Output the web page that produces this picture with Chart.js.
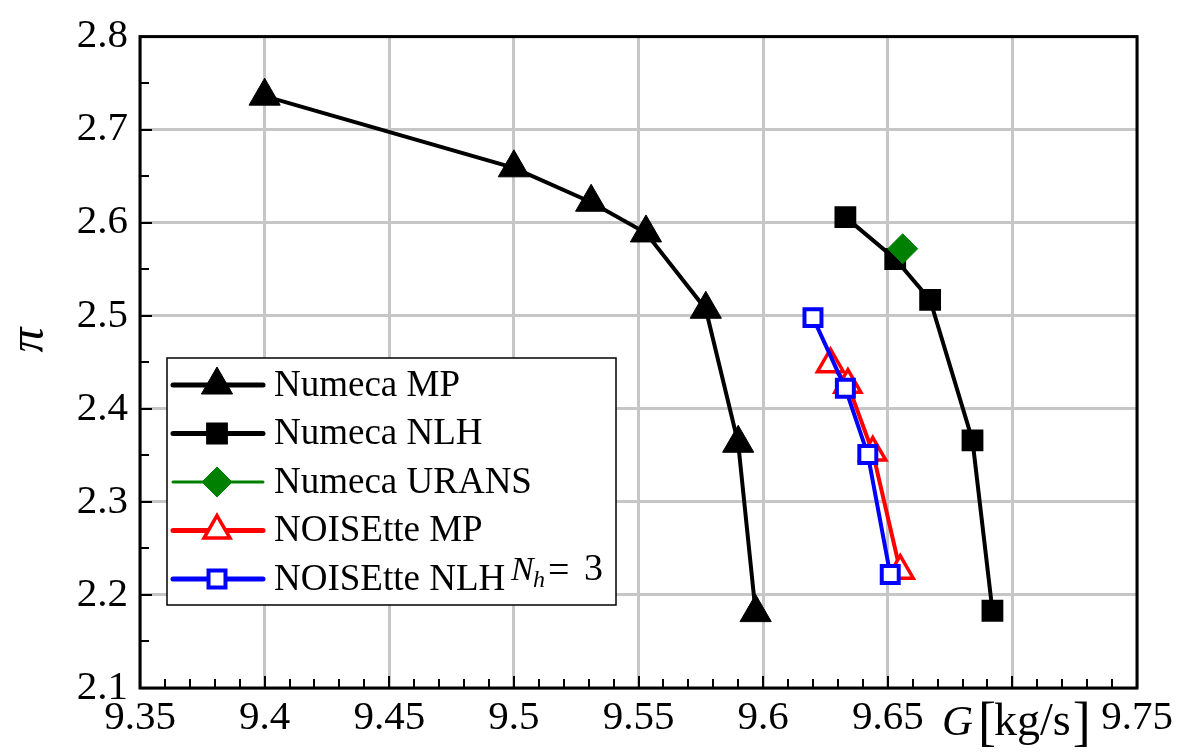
<!DOCTYPE html>
<html>
<head>
<meta charset="utf-8">
<script src="https://cdn.jsdelivr.net/npm/chart.js@4.4.0/dist/chart.umd.min.js"></script>
<style>
  html, body { margin: 0; padding: 0; background: #fff; }
</style>
</head>
<body>
<canvas id="chart" width="1186" height="753"></canvas>
<script>
// mass flow G [kg/s] vs pressure ratio pi
const numecaMpG   = [9.400, 9.500, 9.531, 9.553, 9.577, 9.590, 9.597];
const numecaMpPi  = [2.736, 2.659, 2.622, 2.589, 2.507, 2.363, 2.181];

const numecaNlhG  = [9.633, 9.653, 9.667, 9.684, 9.692];
const numecaNlhPi = [2.606, 2.561, 2.517, 2.366, 2.183];

const uransG  = [9.656];
const uransPi = [2.572];

const noiseMpG   = [9.627, 9.634, 9.644, 9.655];
const noiseMpPi  = [2.448, 2.426, 2.353, 2.226];

const noiseNlhG  = [9.620, 9.633, 9.642, 9.651];
const noiseNlhPi = [2.498, 2.422, 2.351, 2.222];

const gTicks = [9.35, 9.4, 9.45, 9.5, 9.55, 9.6, 9.65, 9.7, 9.75];
const gTickLabels = ['9.35', '9.4', '9.45', '9.5', '9.55', '9.6', '9.65', '', '9.75'];
const piTicks = [2.1, 2.2, 2.3, 2.4, 2.5, 2.6, 2.7, 2.8];
const piTickLabels = ['2.1', '2.2', '2.3', '2.4', '2.5', '2.6', '2.7', '2.8'];

const SERIF = "'Liberation Serif', 'DejaVu Serif', serif";

function pts(xs, ys) {
  return xs.map((x, i) => ({ x: x, y: ys[i] }));
}

// inner ticks, frame box, axis titles
const frame = {
  id: 'frame',
  afterDatasetsDraw(chart) {
    const { ctx, chartArea: a, scales: { x, y } } = chart;
    ctx.save();
    ctx.strokeStyle = '#000';
    ctx.lineWidth = 2;
    ctx.beginPath();
    for (let i = 0; i < gTicks.length - 1; i++) {
      const step = (gTicks[i + 1] - gTicks[i]) / 5;
      for (let k = 0; k < 5; k++) {
        const px = Math.round(x.getPixelForValue(gTicks[i] + k * step));
        const len = k === 0 ? 12 : 9;
        ctx.moveTo(px, a.bottom);
        ctx.lineTo(px, a.bottom - len);
      }
    }
    for (let i = 0; i < piTicks.length - 1; i++) {
      const step = (piTicks[i + 1] - piTicks[i]) / 2;
      for (let k = 0; k < 2; k++) {
        const py = Math.round(y.getPixelForValue(piTicks[i] + k * step));
        const len = k === 0 ? 12 : 9;
        ctx.moveTo(a.left, py);
        ctx.lineTo(a.left + len, py);
      }
    }
    ctx.stroke();
    ctx.lineWidth = 3;
    ctx.strokeRect(a.left, a.top, a.right - a.left, a.bottom - a.top);
    ctx.restore();
  },
  afterDraw(chart) {
    const ctx = chart.ctx;
    ctx.save();
    ctx.fillStyle = '#000';
    // y title, rotated
    ctx.translate(30, 340);
    ctx.rotate(-Math.PI / 2);
    ctx.font = 'italic 50px ' + SERIF;
    ctx.textAlign = 'center';
    ctx.textBaseline = 'middle';
    ctx.fillText('\u03c0', 0, 0);
    ctx.restore();

    // x title: G [kg/s] with tall brackets
    ctx.save();
    ctx.fillStyle = '#000';
    ctx.textBaseline = 'alphabetic';
    ctx.textAlign = 'left';
    ctx.font = 'italic 43px ' + SERIF;
    ctx.fillText('G', 942, 735);
    ctx.font = '54px ' + SERIF;
    ctx.fillText('[', 978, 740);
    ctx.font = '46px ' + SERIF;
    ctx.fillText('kg/s', 994, 735);
    const unitEnd = 994 + ctx.measureText('kg/s').width;
    ctx.font = '54px ' + SERIF;
    ctx.fillText(']', unitEnd + 2, 740);
    ctx.restore();
  }
};

// boxed legend: line with the marker in the middle
const legendBox = {
  id: 'legendBox',
  afterDraw(chart) {
    const ctx = chart.ctx;
    const bx = 167, by = 358, bw = 449, bh = 247;
    ctx.save();
    ctx.fillStyle = '#fff';
    ctx.fillRect(bx, by, bw, bh);
    ctx.strokeStyle = '#000';
    ctx.lineWidth = 1.5;
    ctx.strokeRect(bx, by, bw, bh);

    chart.data.datasets.forEach((ds, i) => {
      const ry = by + 27 + i * 48.5;
      ctx.strokeStyle = ds.borderColor;
      ctx.lineWidth = ds.legendLineWidth;
      ctx.lineCap = 'round';
      ctx.beginPath();
      ctx.moveTo(bx + 6, ry);
      ctx.lineTo(bx + 96, ry);
      ctx.stroke();

      ctx.fillStyle = ds.pointBackgroundColor;
      ctx.strokeStyle = ds.pointBorderColor;
      ctx.lineWidth = ds.pointBorderWidth;
      ctx.lineCap = 'butt';
      Chart.helpers.drawPoint(ctx, {
        pointStyle: ds.pointStyle,
        radius: ds.pointRadius,
        rotation: 0,
        borderWidth: ds.pointBorderWidth
      }, bx + 50, ry);

      ctx.fillStyle = '#000';
      ctx.font = '37px ' + SERIF;
      ctx.textBaseline = 'middle';
      ctx.textAlign = 'left';
      ctx.fillText(ds.label, bx + 107, ry + 1);
    });

    // harmonic count note
    ctx.fillStyle = '#000';
    ctx.textBaseline = 'alphabetic';
    ctx.font = 'italic 34px ' + SERIF;
    ctx.fillText('N', 511, 580);
    ctx.font = 'italic 24px ' + SERIF;
    ctx.fillText('h', 533, 587);
    ctx.font = '38px ' + SERIF;
    ctx.fillText('=', 548, 582);
    ctx.fillText('3', 584, 580);
    ctx.restore();
  }
};

new Chart(document.getElementById('chart'), {
  type: 'line',
  data: {
    datasets: [
      {
        label: 'Numeca MP',
        data: pts(numecaMpG, numecaMpPi),
        borderColor: '#000',
        borderWidth: 4,
        legendLineWidth: 5,
        pointStyle: 'triangle',
        pointRadius: 18,
        pointBackgroundColor: '#000',
        pointBorderColor: '#000',
        pointBorderWidth: 1,
        order: 3
      },
      {
        label: 'Numeca NLH',
        data: pts(numecaNlhG, numecaNlhPi),
        borderColor: '#000',
        borderWidth: 4,
        legendLineWidth: 5,
        pointStyle: 'rect',
        pointRadius: 14,
        pointBackgroundColor: '#000',
        pointBorderColor: '#000',
        pointBorderWidth: 2,
        order: 3
      },
      {
        label: 'Numeca URANS',
        data: pts(uransG, uransPi),
        showLine: false,
        borderColor: '#008000',
        borderWidth: 2,
        legendLineWidth: 3,
        pointStyle: 'rectRot',
        pointRadius: 15,
        pointBackgroundColor: '#008000',
        pointBorderColor: '#008000',
        pointBorderWidth: 1,
        order: 1
      },
      {
        label: 'NOISEtte MP',
        data: pts(noiseMpG, noiseMpPi),
        borderColor: '#ff0000',
        borderWidth: 4,
        legendLineWidth: 5,
        pointStyle: 'triangle',
        pointRadius: 15,
        pointBackgroundColor: '#fff',
        pointBorderColor: '#ff0000',
        pointBorderWidth: 3.5,
        order: 2
      },
      {
        label: 'NOISEtte NLH',
        data: pts(noiseNlhG, noiseNlhPi),
        borderColor: '#0000ff',
        borderWidth: 4,
        legendLineWidth: 5,
        pointStyle: 'rect',
        pointRadius: 12,
        pointBackgroundColor: '#fff',
        pointBorderColor: '#0000ff',
        pointBorderWidth: 4,
        order: 0
      }
    ]
  },
  options: {
    responsive: false,
    devicePixelRatio: 1,
    animation: false,
    layout: { padding: { top: 28, right: 49, left: 0, bottom: 0 } },
    plugins: {
      legend: { display: false },
      tooltip: { enabled: false }
    },
    elements: { line: { tension: 0 } },
    scales: {
      x: {
        type: 'linear',
        min: 9.35,
        max: 9.75,
        afterBuildTicks: s => { s.ticks = gTicks.map(v => ({ value: v })); },
        afterFit: s => { s.height = 65; },
        ticks: {
          callback: (v, i) => gTickLabels[i],
          color: '#000',
          font: { family: SERIF, size: 41 },
          padding: 6,
          maxRotation: 0,
          autoSkip: false
        },
        grid: { color: '#c6c6c6', lineWidth: 3, drawTicks: false },
        border: { display: false }
      },
      y: {
        type: 'linear',
        min: 2.1,
        max: 2.8,
        afterBuildTicks: s => { s.ticks = piTicks.map(v => ({ value: v })); },
        afterFit: s => { s.width = 140; },
        ticks: {
          callback: (v, i) => piTickLabels[i],
          color: '#000',
          font: { family: SERIF, size: 41 },
          padding: 12,
          autoSkip: false
        },
        grid: { color: '#c6c6c6', lineWidth: 3, drawTicks: false },
        border: { display: false }
      }
    }
  },
  plugins: [frame, legendBox]
});
</script>
</body>
</html>
